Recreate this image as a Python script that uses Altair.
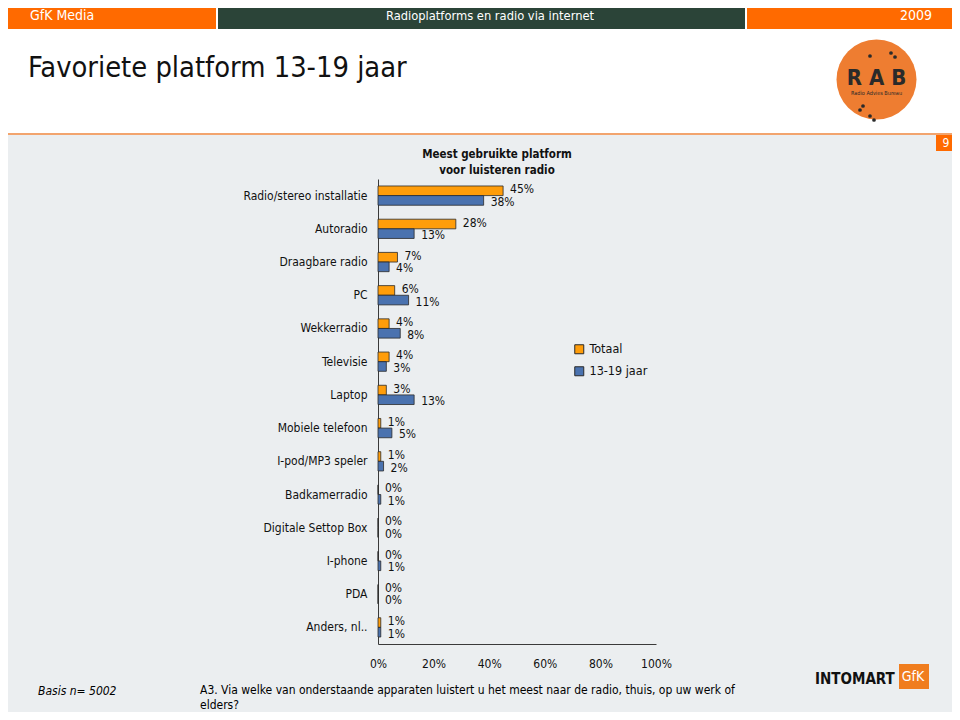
import altair as alt
import pandas as pd

# ---------------- data ----------------
categories = [
    "Radio/stereo installatie", "Autoradio", "Draagbare radio", "PC", "Wekkerradio",
    "Televisie", "Laptop", "Mobiele telefoon", "I-pod/MP3 speler", "Badkamerradio",
    "Digitale Settop  Box", "I-phone", "PDA", "Anders, nl..",
]
series = ["Totaal", "13-19 jaar"]
totaal = [45, 28, 7, 6, 4, 4, 3, 1, 1, 0, 0, 0, 0, 1]
jaar_13_19 = [38, 13, 4, 11, 8, 3, 13, 5, 2, 1, 0, 1, 0, 1]
x_ticks = [0, 20, 40, 60, 80, 100]
colors = ["#FF9D0A", "#4A72AF"]

rows = []
for c, t, j in zip(categories, totaal, jaar_13_19):
    rows.append({"cat": c, "series": series[0], "value": t, "label": f"{t}%"})
    rows.append({"cat": c, "series": series[1], "value": j, "label": f"{j}%"})
df = pd.DataFrame(rows)

FONT = "DejaVu Sans Condensed"

# whole chart 944x704 (window minus the page margin); plot origin at page (378, 179)
TOTAL_W, TOTAL_H = 944, 704
PL, PT = 370, 171
W, H = 278, 465
PR, PB = TOTAL_W - PL - W, TOTAL_H - PT - H


def px(X):
    return X - 8 - PL


def py(Y):
    return Y - 8 - PT


one = pd.DataFrame({"a": [0]})


def rect(x1, y1, x2, y2, color):
    return alt.Chart(one).mark_rect(color=color).encode(
        x=alt.value(px(x1)), x2=alt.value(px(x2)),
        y=alt.value(py(y1)), y2=alt.value(py(y2)))


def text(t, x, y, size, align="left", weight="normal", style="normal",
         color="black", font=FONT, lh=None):
    return alt.Chart(one).mark_text(
        text=t, align=align, baseline="middle", fontSize=size, fontWeight=weight,
        fontStyle=style, color=color, font=font, lineHeight=lh or size * 1.35,
    ).encode(x=alt.value(px(x)), y=alt.value(py(y)))


def dot(x, y, size, color):
    return alt.Chart(one).mark_circle(size=size, color=color, opacity=1).encode(
        x=alt.value(px(x)), y=alt.value(py(y)))


deco = [
    rect(0, 0, 960, 135, "#FFFFFF"),
    rect(0, 0, 216, 29, "#FF6A00"),
    rect(218, 0, 745, 29, "#2B4438"),
    rect(747, 0, 960, 29, "#FF6A00"),
    rect(0, 133, 960, 135, "#F2A46E"),
    rect(936, 135, 960, 151, "#FF6A00"),
    text("GfK Media", 30, 16, 14, color="white"),
    text("Radioplatforms en radio via internet", 490, 16, 12.8, align="center", color="white"),
    text("2009", 932, 16, 14, align="right", color="white"),
    text("9", 946, 143, 12, align="center", color="white"),
    text("Favoriete platform 13-19 jaar", 28, 68, 28.8, color="#111111"),
    # RAB logo
    dot(876.5, 79.5, 6400, "#EE7D31"),
    text("R A B", 876.5, 78, 22, align="center", weight="bold", color="#2A2A2A"),
    text("Radio Advies Bureau", 876.5, 93, 5.5, align="center", color="#2A2A2A"),
    dot(870, 56, 14, "#2A2A2A"), dot(891, 53, 14, "#2A2A2A"), dot(895, 57, 14, "#2A2A2A"),
    dot(863, 106, 14, "#2A2A2A"), dot(860, 110, 14, "#2A2A2A"),
    dot(870, 116, 14, "#2A2A2A"), dot(874, 120, 14, "#2A2A2A"),
    # chart title
    text(["Meest gebruikte  platform", "voor luisteren radio"], 497, 155, 11.5,
         align="center", weight="bold", color="#111111"),
    # footer
    text("Basis  n= 5002", 38, 691, 12, style="italic"),
    text(["A3. Via welke van onderstaande apparaten luistert u het meest naar de radio, thuis, op uw werk of",
          "elders?"], 200, 690, 12, lh=14.5),
    text("INTOMART", 815, 679, 15, weight="bold", color="#111111"),
    rect(899, 664, 929, 689, "#F07D1E"),
    text("GfK", 913, 677, 14, align="center", color="white"),
]

base = alt.Chart(df)

y_enc = alt.Y("cat:N", sort=categories, title=None,
              scale=alt.Scale(paddingInner=0.42, paddingOuter=0.21),
              axis=alt.Axis(ticks=False, domainColor="#3A3A3A", labelFont=FONT,
                            labelFontSize=12, labelColor="#111111", labelPadding=11,
                            grid=False, labelLimit=300))
yoff = alt.YOffset("series:N", sort=series,
                   scale=alt.Scale(paddingInner=0, paddingOuter=0))
x_enc = alt.X("value:Q", title=None, scale=alt.Scale(domain=[0, 100]),
              axis=alt.Axis(values=x_ticks, labelExpr="datum.value + '%'", ticks=False,
                            grid=False, domainColor="#3A3A3A", labelFont=FONT,
                            labelFontSize=12, labelColor="#111111", labelPadding=14,
                            labelFlush=False, labelOverlap=False))

bars = base.mark_bar(stroke="#2A2A2A", strokeWidth=0.8).encode(
    y=y_enc, yOffset=yoff, x=x_enc,
    color=alt.Color("series:N", sort=series,
                    scale=alt.Scale(domain=series, range=colors),
                    legend=alt.Legend(orient="none", legendX=195, legendY=164, title=None,
                                      symbolType="square", symbolSize=81,
                                      symbolStrokeColor="#2A2A2A", symbolStrokeWidth=1,
                                      labelFont=FONT, labelFontSize=12.5,
                                      labelColor="#111111", rowPadding=8, padding=0,
                                      labelOffset=4)),
)


def value_labels(name, dy):
    return base.transform_filter(alt.datum.series == name).mark_text(
        align="left", baseline="middle", dx=7, dy=dy, font=FONT,
        fontSize=12, color="#111111").encode(
        y=alt.Y("cat:N", sort=categories),
        yOffset=alt.YOffset("series:N", sort=series),
        x="value:Q", text="label:N")


labels_tot = value_labels(series[0], -1.5)
labels_jaar = value_labels(series[1], 1.5)

chart = alt.layer(*deco, bars, labels_tot, labels_jaar).properties(
    width=W, height=H,
    autosize=alt.AutoSizeParams(type="none"),
    padding={"left": PL, "top": PT, "right": PR, "bottom": PB},
).configure(background="#EBEEF0").configure_view(stroke=None)

chart.save("out.html", embed_options={"renderer": "svg", "actions": False})
